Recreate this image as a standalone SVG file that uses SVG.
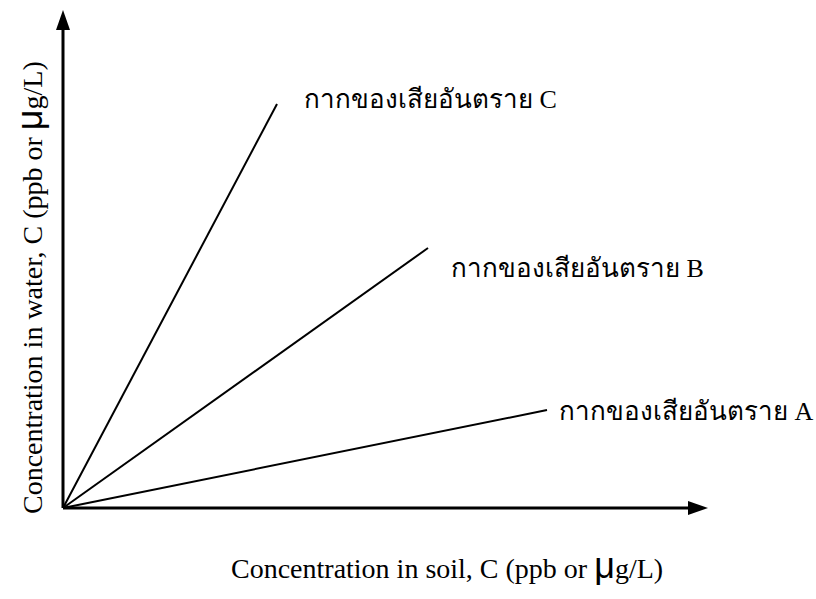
<svg xmlns="http://www.w3.org/2000/svg" width="816" height="599" viewBox="0 0 816 599">
<style>
.ax{stroke:#000;stroke-width:3;fill:none}
.ln{stroke:#000;stroke-width:2;fill:none}
.t{font-family:"Liberation Serif","Noto Serif",serif;font-size:28px;fill:#000}
.th{font-family:"Liberation Serif","Noto Sans",serif;font-size:26px;fill:#000}
.mu{font-family:"Liberation Sans","DejaVu Sans",sans-serif;font-size:36px}
</style>
<rect width="816" height="599" fill="#fff"/>
<g id="connectors">
<line class="ax" x1="63" y1="508" x2="63" y2="28"/>
<polygon points="63,10 56,30 70,30" fill="#000"/>
<line class="ax" x1="63" y1="508" x2="690" y2="508"/>
<polygon points="708,508 688,501 688,515" fill="#000"/>
<line class="ln" x1="63" y1="508" x2="277" y2="104"/>
<line class="ln" x1="63" y1="508" x2="428" y2="248"/>
<line class="ln" x1="63" y1="508" x2="547" y2="410"/>
</g>
<g id="label-c"><text class="th" x="304" y="108">กากของเสียอันตราย C</text></g>
<g id="label-b"><text class="th" x="451" y="277">กากของเสียอันตราย B</text></g>
<g id="label-a"><text class="th" x="559" y="420">กากของเสียอันตราย A</text></g>
<g id="x-label"><text class="t" x="231" y="578">Concentration in soil, C (ppb or <tspan class="mu">μ</tspan>g/L)</text></g>
<g id="y-label"><text class="t" transform="translate(42,514) rotate(-90)">Concentration in water, C (ppb or <tspan class="mu">μ</tspan>g/L)</text></g>
</svg>
